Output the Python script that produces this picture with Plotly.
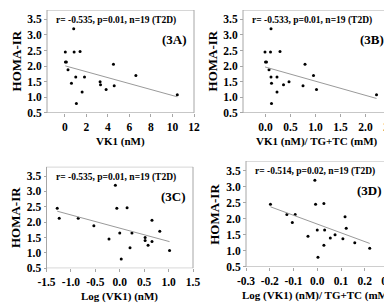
import numpy as np
import plotly.graph_objects as go

W, H = 392, 303

vk1 = [0.05, 0.06, 0.15, 0.30, 0.62, 0.83, 0.87, 1.02, 1.08, 1.42,
       1.61, 1.83, 3.28, 3.32, 3.84, 4.52, 4.59, 6.60, 10.45]
homa_a = [2.45, 2.13, 2.13, 1.88, 1.45, 3.20, 2.45, 1.65, 0.80, 2.47,
          1.17, 1.65, 1.50, 1.40, 1.25, 2.06, 1.37, 1.70, 1.08]

vk1_lip = [-0.01, 0.00, 0.02, 0.07, 0.10, 0.11, 0.11, 0.12, 0.12, 0.23,
           0.23, 0.29, 0.36, 0.47, 0.75, 0.79, 0.96, 1.02, 2.22]
homa_b = [2.45, 2.13, 2.13, 1.88, 2.45, 3.20, 1.65, 1.45, 0.80, 1.65,
          1.17, 2.47, 1.40, 1.50, 1.37, 2.06, 1.70, 1.25, 1.08]

log_vk1 = [-1.28, -1.24, -0.85, -0.53, -0.22, -0.09, -0.06, 0.00, 0.03, 0.15,
           0.21, 0.25, 0.52, 0.52, 0.58, 0.66, 0.66, 0.82, 1.02]
homa_c = [2.45, 2.13, 2.13, 1.88, 1.45, 3.20, 2.45, 1.65, 0.80, 2.47,
          1.17, 1.65, 1.50, 1.40, 1.25, 2.06, 1.37, 1.70, 1.08]

log_vk1_lip = [-0.197, -0.128, -0.093, -0.105, -0.039, -0.010, -0.007, 0.000, 0.003, 0.028,
               0.028, 0.031, 0.055, 0.075, 0.108, 0.117, 0.122, 0.158, 0.221]
homa_d = [2.45, 2.13, 2.13, 1.88, 1.45, 3.20, 2.45, 1.65, 0.80, 2.47,
          1.17, 1.65, 1.40, 1.50, 1.37, 2.06, 1.70, 1.25, 1.08]

stats = ["r= -0.535, p=0.01, n=19 (T2D)", "r= -0.533, p=0.01, n=19 (T2D)",
         "r= -0.535, p=0.01, n=19 (T2D)", "r= -0.514, p=0.02, n=19 (T2D)"]
labels = ["(3A)", "(3B)", "(3C)", "(3D)"]
xtitles = ["VK1 (nM)", "VK1 (nM)/ TG+TC (mM)", "Log (VK1) (nM)", "Log (VK1) (nM)/ TG+TC (mM)"]
ytitle = "HOMA-IR"
xranges = [[-1.65, 12], [-0.45, 2.5], [-1.5, 1.5], [-0.3, 0.3]]
xtickvals = [[0, 2, 4, 6, 8, 10, 12], [0, 0.5, 1, 1.5, 2, 2.5],
             [-1.5, -1, -0.5, 0, 0.5, 1, 1.5], [-0.3, -0.2, -0.1, 0, 0.1, 0.2, 0.3]]
xticktext = [["0", "2", "4", "6", "8", "10", "12"],
             ["0.0", "0.5", "1.0", "1.5", "2.0", "2.5"],
             ["-1.5", "-1.0", "-0.5", "0.0", "0.5", "1.0", "1.5"],
             ["-0.3", "-0.2", "-0.1", "0.0", "0.1", "0.2", "0.3"]]
yrange = [0.5, 3.8]
ytickvals = [0.5, 1.0, 1.5, 2.0, 2.5, 3.0, 3.5]
yticktext = ["0.5", "1.0", "1.5", "2.0", "2.5", "3.0", "3.5"]

# plot-area boxes in pixels: left, right, top, bottom
boxes = [(39, 186, 2, 107), (235, 382.5, 2, 107),
         (38.5, 185, 162, 265.5), (238, 380.5, 156, 264)]

xs = [vk1, vk1_lip, log_vk1, log_vk1_lip]
ys = [homa_a, homa_b, homa_c, homa_d]

FONT = "Liberation Serif"
GREY = "#a6a6a6"
fig = go.Figure()
layout = {}
shapes = []
for i in range(4):
    sfx = "" if i == 0 else str(i + 1)
    l, r, t, b = boxes[i]
    x0, x1 = xranges[i]
    s = (x1 - x0) / (r - l)          # data units per pixel
    pl = min(12, l - 1)
    pr = min(12, W - r - 0.5)
    xd = [(l - pl) / W, (r + pr) / W]
    xr = [x0 - pl * s, x1 + pr * s]
    yd = [1 - b / H, 1 - t / H]
    x = np.array(xs[i]); y = np.array(ys[i])
    fig.add_trace(go.Scatter(x=x, y=y, mode="markers", xaxis="x" + sfx, yaxis="y" + sfx,
                             marker=dict(color="black", size=3), showlegend=False))
    k, c = np.polyfit(x, y, 1)
    lx = np.array([x.min(), x.max()])
    fig.add_trace(go.Scatter(x=lx, y=k * lx + c, mode="lines", xaxis="x" + sfx, yaxis="y" + sfx,
                             line=dict(color="#9a9a9a", width=1), showlegend=False))
    common = dict(showgrid=False, zeroline=False, showline=False,
                  ticks="outside", ticklen=3, tickcolor=GREY, tickangle=0,
                  ticklabeloverflow="allow", autorange=False, tickmode="array",
                  tickfont=dict(family=FONT, size=11.5, color="black", weight="bold"))
    layout["xaxis" + sfx] = dict(domain=xd, range=xr, anchor="y" + sfx,
                                 tickvals=xtickvals[i], ticktext=xticktext[i], **common)
    layout["yaxis" + sfx] = dict(domain=yd, range=yrange, anchor="free", position=l / W,
                                 tickvals=ytickvals, ticktext=yticktext, **common)
    shapes.append(dict(type="rect", xref="x" + sfx, yref="y" + sfx,
                       x0=x0, x1=x1, y0=yrange[0], y1=yrange[1],
                       line=dict(color=GREY, width=1), fillcolor="rgba(0,0,0,0)", layer="above"))

annotations = []
for i in range(4):
    l, r, t, b = boxes[i]
    annotations.append(dict(text="<b>" + stats[i] + "</b>", xref="paper", yref="paper",
                            x=(l + 7) / W, y=1 - (t + 3) / H, xanchor="left", yanchor="top",
                            showarrow=False, font=dict(family=FONT, size=9.5, color="black")))
    annotations.append(dict(text="<b>" + labels[i] + "</b>", xref="paper", yref="paper",
                            x=(r - 5) / W, y=1 - (t + 30) / H, xanchor="right", yanchor="middle",
                            showarrow=False, font=dict(family=FONT, size=13, color="black")))
    annotations.append(dict(text="<b>" + xtitles[i] + "</b>", xref="paper", yref="paper",
                            x=(l + r) / 2 / W, y=1 - (b + 29) / H, xanchor="center", yanchor="middle",
                            showarrow=False, font=dict(family=FONT, size=11, color="black")))
    annotations.append(dict(text="<b>" + ytitle + "</b>", xref="paper", yref="paper",
                            x=(l - 31) / W, y=1 - (t + b) / 2 / H, xanchor="center", yanchor="middle",
                            textangle=-90, showarrow=False,
                            font=dict(family=FONT, size=13, color="black")))

fig.update_layout(width=W, height=H, margin=dict(l=0, r=0, t=0, b=0),
                  paper_bgcolor="white", plot_bgcolor="white",
                  annotations=annotations, shapes=shapes, **layout)
fig.write_html("out.html")
